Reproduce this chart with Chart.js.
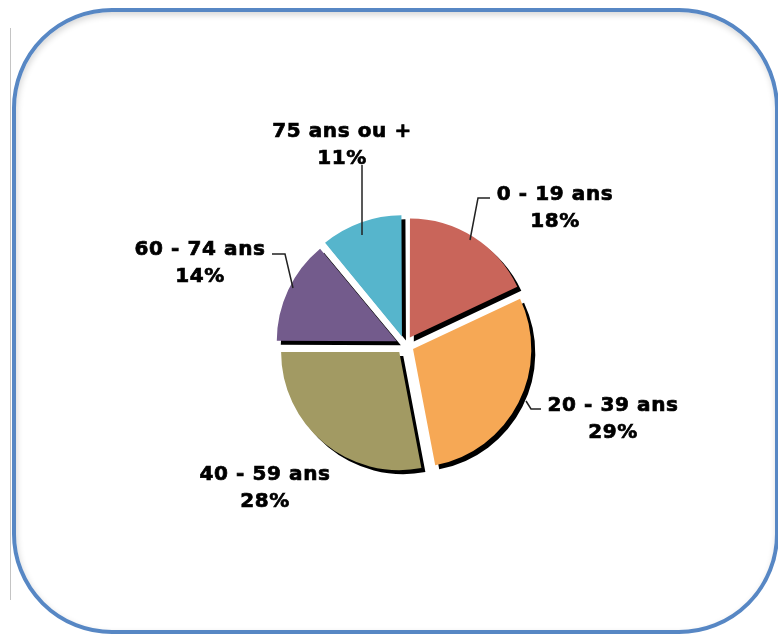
<!DOCTYPE html>
<html>
<head>
<meta charset="utf-8">
<script src="https://cdn.jsdelivr.net/npm/chart.js@4/dist/chart.umd.min.js"></script>
<style>
  html, body { margin: 0; padding: 0; background: #fff; }
  body { width: 778px; height: 637px; position: relative; overflow: hidden; }
  #rule { position: absolute; left: 10px; top: 28px; width: 1px; height: 572px; background: #c4c4c4; }
  #frame {
    position: absolute; left: 12px; top: 8px; width: 759px; height: 618px;
    border: 4px solid #5787c4; border-radius: 100px;
    box-shadow: inset 1px 3px 6px rgba(0,0,0,0.16);
  }
  #wrap { position: absolute; left: 0; top: 0; width: 778px; height: 637px; }
</style>
</head>
<body>
<div id="rule"></div>
<div id="frame"></div>
<div id="wrap"><canvas id="pie" width="778" height="637"></canvas></div>
<script>
// tranches d'âge
const categories = ['0 - 19 ans', '20 - 39 ans', '40 - 59 ans', '60 - 74 ans', '75 ans ou +'];
const shares = [18, 29, 28, 14, 11];
const sliceColors = ['#c9655a', '#f6a855', '#a29a63', '#735b8c', '#56b5cc'];

// label placement relative to the pie centre: text centre x, first baseline y
const labelAt = [[150, -145], [208, 66], [-140, 135], [-205, -90], [-63, -208]];
// leader lines, same reference
const leaders = [
  [[65, -105], [73, -147], [85, -147]],
  [[121, 56], [126, 64], [136, 64]],
  [],
  [[-133, -91], [-120, -91], [-112, -57]],
  [[-43, -180], [-43, -110]]
];

// hard black drop shadow behind each slice
const sliceShadow = {
  id: 'sliceShadow',
  beforeDatasetsDraw(chart) {
    const ctx = chart.ctx;
    ctx.save();
    ctx.shadowColor = '#000';
    ctx.shadowBlur = 0;
    ctx.shadowOffsetX = 4;
    ctx.shadowOffsetY = 4;
  },
  afterDatasetsDraw(chart) {
    chart.ctx.restore();
  }
};

const outerLabels = {
  id: 'outerLabels',
  afterDraw(chart) {
    const ctx = chart.ctx;
    const arc = chart.getDatasetMeta(0).data[0];
    const cx = arc.x, cy = arc.y;
    ctx.save();
    ctx.strokeStyle = '#222';
    ctx.lineWidth = 1.5;
    leaders.forEach(pts => {
      if (!pts.length) return;
      ctx.beginPath();
      pts.forEach((p, i) => {
        if (i === 0) ctx.moveTo(cx + p[0], cy + p[1]);
        else ctx.lineTo(cx + p[0], cy + p[1]);
      });
      ctx.stroke();
    });
    ctx.fillStyle = '#000';
    ctx.strokeStyle = '#000';
    ctx.lineWidth = 0.7;
    ctx.font = 'bold 20px "DejaVu Sans"';
    ctx.letterSpacing = '0.6px';
    ctx.textAlign = 'center';
    ctx.textBaseline = 'alphabetic';
    categories.forEach((name, i) => {
      const x = cx + labelAt[i][0], y = cy + labelAt[i][1];
      ctx.fillText(name, x, y);
      ctx.strokeText(name, x, y);
      ctx.fillText(shares[i] + '%', x, y + 27);
      ctx.strokeText(shares[i] + '%', x, y + 27);
    });
    ctx.restore();
  }
};

new Chart(document.getElementById('pie'), {
  type: 'pie',
  data: {
    labels: categories,
    datasets: [{
      data: shares,
      backgroundColor: sliceColors,
      borderWidth: 0,
      offset: 36,
      hoverOffset: 0,
      radius: 118
    }]
  },
  options: {
    responsive: false,
    animation: false,
    radius: 118,
    layout: { padding: { left: 82, right: 50, top: 103, bottom: 50 } },
    plugins: {
      legend: { display: false },
      tooltip: { enabled: false }
    }
  },
  plugins: [sliceShadow, outerLabels]
});
</script>
</body>
</html>
